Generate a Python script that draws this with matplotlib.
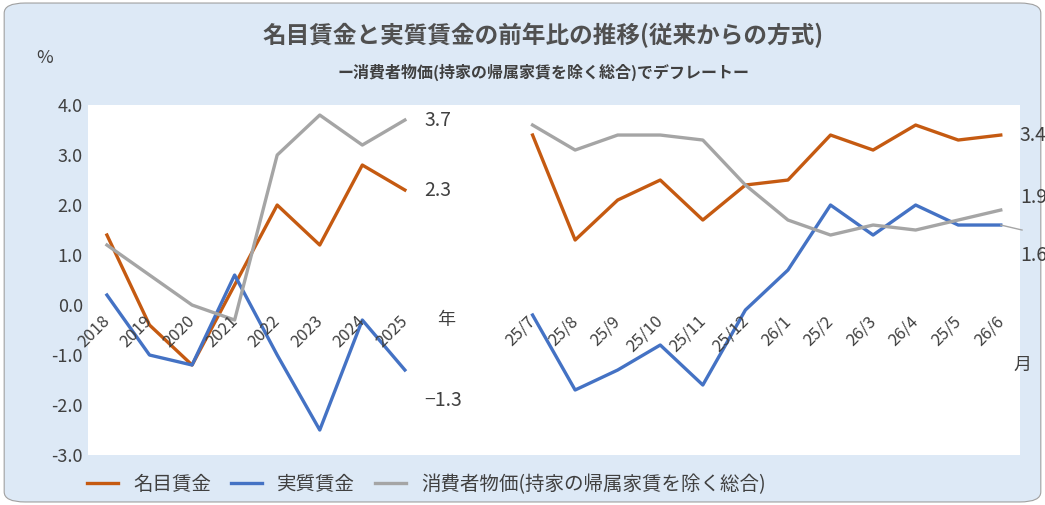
import numpy as np
import matplotlib.pyplot as plt
from matplotlib.patches import FancyBboxPatch

plt.rcParams['font.family'] = ['Noto Sans CJK JP', 'DejaVu Sans']

years = ["2018", "2019", "2020", "2021", "2022", "2023", "2024", "2025"]
months = ["25/7", "25/8", "25/9", "25/10", "25/11", "25/12",
          "26/1", "25/2", "26/3", "26/4", "25/5", "26/6"]

nominal_y = [1.4, -0.4, -1.2, 0.4, 2.0, 1.2, 2.8, 2.3]
real_y = [0.2, -1.0, -1.2, 0.6, -1.0, -2.5, -0.3, -1.3]
cpi_y = [1.2, 0.6, 0.0, -0.3, 3.0, 3.8, 3.2, 3.7]

nominal_m = [3.4, 1.3, 2.1, 2.5, 1.7, 2.4, 2.5, 3.4, 3.1, 3.6, 3.3, 3.4]
real_m = [-0.2, -1.7, -1.3, -0.8, -1.6, -0.1, 0.7, 2.0, 1.4, 2.0, 1.6, 1.6]
cpi_m = [3.6, 3.1, 3.4, 3.4, 3.3, 2.4, 1.7, 1.4, 1.6, 1.5, 1.7, 1.9]

c_nom, c_real, c_cpi = "#c55a11", "#4472c4", "#a5a5a5"

xy = np.arange(len(years))
xm = np.arange(len(months)) + len(years) + 2

fig = plt.figure(figsize=(10.45, 5.05), dpi=100)
fig.patch.set_facecolor("white")
bg = FancyBboxPatch((0.004, 0.006), 0.992, 0.988, boxstyle="round,pad=0,rounding_size=0.02",
                    transform=fig.transFigure, facecolor="#dde9f6", edgecolor="#a0a0a0", lw=0.8, zorder=-10)
fig.patches.append(bg)
ax = fig.add_axes([0.084, 0.099, 0.892, 0.693])
ax.set_facecolor("white")
ax.set_zorder(1)

lw = 2.4
ax.plot(xy, nominal_y, color=c_nom, lw=lw, label="名目賃金")
ax.plot(xy, real_y, color=c_real, lw=lw, label="実質賃金")
ax.plot(xy, cpi_y, color=c_cpi, lw=lw, label="消費者物価(持家の帰属家賃を除く総合)")
ax.plot(xm, nominal_m, color=c_nom, lw=lw)
ax.plot(xm, real_m, color=c_real, lw=lw)
ax.plot(xm, cpi_m, color=c_cpi, lw=lw)

ax.set_xlim(-0.45, xm[-1] + 0.45)
ax.set_ylim(-3, 4)
ax.set_yticks(np.arange(-3, 4.1, 1))
ax.set_yticklabels([f"{v:.1f}" for v in np.arange(-3, 4.1, 1)], fontsize=13, color="#404040")
for s in ax.spines.values():
    s.set_visible(False)
ax.tick_params(length=0)
ax.set_xticks([])

for x, lab in zip(list(xy) + list(xm), years + months):
    ax.text(x + 0.15, -0.15, lab, rotation=45, ha="right", va="top", fontsize=12, color="#404040")
ax.text(len(years) - 0.25, -0.4, "年", fontsize=13, color="#404040")
ax.text(xm[-1] + 0.3, -1.3, "月", fontsize=13, color="#404040")

vf = dict(fontsize=14, color="#404040", va="center")
ax.text(7.45, cpi_y[-1], f"{cpi_y[-1]}", **vf)
ax.text(7.45, nominal_y[-1], f"{nominal_y[-1]}", **vf)
ax.text(7.45, real_y[-1] - 0.6, f"{real_y[-1]}".replace("-", "−"), **vf)
ax.text(xm[-1] + 0.45, nominal_m[-1], f"{nominal_m[-1]}", **vf)
ax.text(xm[-1] + 0.45, cpi_m[-1] + 0.25, f"{cpi_m[-1]}", **vf)
ax.text(xm[-1] + 0.45, real_m[-1] - 0.6, f"{real_m[-1]}", **vf)
ax.plot([xm[-1], xm[-1] + 0.5], [real_m[-1], real_m[-1] - 0.1], color=c_cpi, lw=1, clip_on=False)

fig.text(0.52, 0.915, "名目賃金と実質賃金の前年比の推移(従来からの方式)", ha="center",
         fontsize=17, fontweight="bold", color="#505050")
fig.text(0.52, 0.845, "ー消費者物価(持家の帰属家賃を除く総合)でデフレートー", ha="center",
         fontsize=11.5, fontweight="bold", color="#404040")
fig.text(0.035, 0.875, "%", fontsize=13, color="#404040")

ax.legend(loc="upper left", bbox_to_anchor=(-0.02, -0.005), ncol=3, frameon=False,
          fontsize=14, handlelength=1.6, columnspacing=1.0, labelcolor="#404040")

fig.savefig("out.png", dpi=100)
